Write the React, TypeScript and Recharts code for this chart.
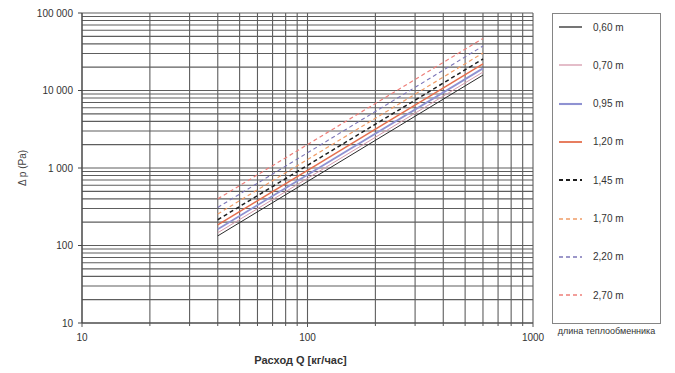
import React from 'react';
import { LineChart, Line, XAxis, YAxis, CartesianGrid, Legend, Label } from 'recharts';

// Flow rate Q [kg/h] at the start and end of each curve
const flowQ = [40, 600];

// Pressure drop Δp [Pa] for each heat-exchanger length
const dp060 = [133, 15800];
const dp070 = [146, 17300];
const dp095 = [162, 19300];
const dp120 = [185, 22000];
const dp145 = [215, 25500];
const dp170 = [255, 30500];
const dp220 = [310, 37500];
const dp270 = [400, 47000];

const lengthLabels = ['0,60 m', '0,70 m', '0,95 m', '1,20 m', '1,45 m', '1,70 m', '2,20 m', '2,70 m'];
const seriesValues = [dp060, dp070, dp095, dp120, dp145, dp170, dp220, dp270];

const xMajorTicks = [10, 100, 1000];
const yMajorTicks = [10, 100, 1000, 10000, 100000];
const mantissas = [1, 2, 3, 4, 5, 6, 7, 8, 9];

const legendCaption = 'длина теплообменника';
const xTitle = 'Расход Q [кг/час]';
const yTitle = 'Δ p (Pa)';

// styles
const seriesStyles = [
  { color: '#2a2a2a', width: 1, dash: undefined },
  { color: '#d69aac', width: 1, dash: undefined },
  { color: '#8f92d2', width: 1.8, dash: undefined },
  { color: '#e5704f', width: 1.5, dash: undefined },
  { color: '#1e1e1e', width: 1.5, dash: '4 3' },
  { color: '#f09c66', width: 1.2, dash: '4 3' },
  { color: '#7c76b8', width: 1.1, dash: '4 3' },
  { color: '#ee7f7a', width: 1.2, dash: '4 3' },
];

const FONT = '"Liberation Sans", Arial, sans-serif';

const buildGrid = (majors: number[]) => {
  const out: number[] = [];
  for (let i = 0; i < majors.length - 1; i++) {
    mantissas.forEach((m) => out.push(majors[i] * m));
  }
  out.push(majors[majors.length - 1]);
  return out;
};
const xGrid = buildGrid(xMajorTicks);
const yGrid = buildGrid(yMajorTicks);

const isMajor = (v: number) => Math.abs(Math.log10(v) - Math.round(Math.log10(v))) < 1e-9;
const fmtY = (v: number) => String(v).replace(/\B(?=(\d{3})+(?!\d))/g, ' ');

const YTick = (props: any) => {
  const { x, y, payload } = props;
  const v = payload.value;
  if (!isMajor(v)) return <g />;
  return (
    <g>
      <line x1={x - 4} x2={x} y1={y} y2={y} stroke="#444" strokeWidth={1} />
      <text x={x - 9} y={y} dy="0.35em" textAnchor="end" fontSize={10} fill="#333" fontFamily={FONT}>
        {fmtY(v)}
      </text>
    </g>
  );
};

const XTick = (props: any) => {
  const { x, y, payload } = props;
  const v = payload.value;
  const major = isMajor(v);
  return (
    <g>
      <line x1={x} x2={x} y1={y} y2={y + (major ? 4 : 3)} stroke="#555" strokeWidth={1} />
      {major && (
        <text x={x} y={y + 14} dy="0.35em" textAnchor="middle" fontSize={10} fill="#333" fontFamily={FONT}>
          {v}
        </text>
      )}
    </g>
  );
};

const LegendBox = () => (
  <div style={{ position: 'relative', width: 108, height: 330, fontFamily: FONT }}>
    <div
      style={{
        position: 'absolute',
        left: 0,
        top: 0,
        width: 109,
        height: 311,
        border: '1.5px solid #858585',
        boxSizing: 'border-box',
      }}
    />
    {lengthLabels.map((label, i) => {
      const s = seriesStyles[i];
      return (
        <div
          key={label}
          style={{
            position: 'absolute',
            left: 7,
            top: 14 + i * 38.3 - 7,
            height: 14,
            display: 'flex',
            alignItems: 'center',
            whiteSpace: 'nowrap',
          }}
        >
          <svg width={23} height={4} style={{ display: 'block' }}>
            <line x1={0} x2={23} y1={2} y2={2} stroke={s.color} strokeWidth={s.width + 0.3} strokeDasharray={s.dash} />
          </svg>
          <span style={{ marginLeft: 11, fontSize: 10, color: '#333' }}>{label}</span>
        </div>
      );
    })}
    <div
      style={{
        position: 'absolute',
        top: 313,
        left: -6,
        width: 121,
        textAlign: 'center',
        fontSize: 9,
        color: '#333',
        whiteSpace: 'nowrap',
      }}
    >
      {legendCaption}
    </div>
  </div>
);

export default function App() {
  return (
    <div style={{ position: 'absolute', left: 0, top: 0, width: 675, height: 373, background: '#fff' }}>
      <LineChart width={675} height={373} margin={{ top: 13, right: 142, bottom: 0, left: 0 }}>
        <CartesianGrid stroke="#5e5e5e" strokeWidth={1.1} />
        <XAxis
          dataKey="q"
          type="number"
          scale="log"
          domain={[10, 1000]}
          allowDataOverflow
          ticks={xGrid}
          interval={0}
          height={50}
          tickSize={0}
          tickMargin={0}
          tick={<XTick />}
          axisLine={{ stroke: '#444', strokeWidth: 1 }}
          tickLine={false}
        >
          <Label
            content={(p: any) => {
              const vb = p.viewBox;
              return (
                <text
                  x={vb.x + vb.width / 2 - 7}
                  y={vb.y + 37}
                  dy="0.35em"
                  textAnchor="middle"
                  fontSize={11}
                  fontWeight="bold"
                  fill="#333"
                  fontFamily={FONT}
                >
                  {xTitle}
                </text>
              );
            }}
          />
        </XAxis>
        <YAxis
          dataKey="dp"
          type="number"
          scale="log"
          domain={[10, 100000]}
          allowDataOverflow
          ticks={yGrid}
          interval={0}
          width={82}
          tickSize={0}
          tickMargin={0}
          tick={<YTick />}
          axisLine={{ stroke: '#444', strokeWidth: 1 }}
          tickLine={false}
        >
          <Label
            content={(p: any) => {
              const vb = p.viewBox;
              const cx = vb.x + 22;
              const cy = vb.y + vb.height / 2;
              return (
                <text
                  x={cx}
                  y={cy}
                  dy="0.35em"
                  textAnchor="middle"
                  fontSize={10}
                  fill="#444"
                  fontFamily={FONT}
                  transform={`rotate(-90 ${cx} ${cy})`}
                >
                  {yTitle}
                </text>
              );
            }}
          />
        </YAxis>
        <Legend
          layout="vertical"
          align="center"
          verticalAlign="middle"
          content={() => <LegendBox />}
          wrapperStyle={{ left: 552, top: 13, width: 110, height: 340, right: 'auto', bottom: 'auto' }}
        />
        {seriesValues.map((vals, i) => {
          const s = seriesStyles[i];
          return (
            <Line
              key={lengthLabels[i]}
              name={lengthLabels[i]}
              data={flowQ.map((q, j) => ({ q, dp: vals[j] }))}
              dataKey="dp"
              stroke={s.color}
              strokeWidth={s.width}
              strokeDasharray={s.dash}
              dot={false}
              activeDot={false}
              isAnimationActive={false}
            />
          );
        })}
      </LineChart>
    </div>
  );
}
